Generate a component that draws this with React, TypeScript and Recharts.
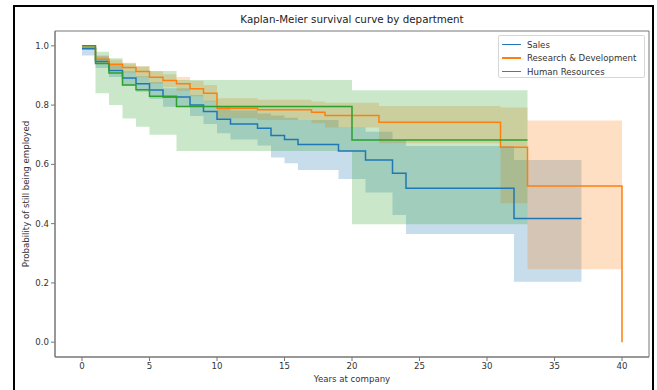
import { ComposedChart, Line, Area, XAxis, YAxis, ReferenceArea } from 'recharts';

// Kaplan-Meier estimates (step after each time)
const salesTimes = [0, 1, 2, 3, 4, 5, 6, 8, 9, 10, 11, 13, 14, 15, 16, 19, 21, 23, 24, 32, 37];
const salesSurv = [0.99, 0.947, 0.917, 0.891, 0.872, 0.851, 0.827, 0.8, 0.778, 0.752, 0.736, 0.722, 0.697, 0.684, 0.667, 0.645, 0.615, 0.57, 0.519, 0.417, 0.417];
const salesLower = [0.967, 0.925, 0.895, 0.866, 0.845, 0.821, 0.794, 0.763, 0.736, 0.705, 0.684, 0.664, 0.623, 0.604, 0.581, 0.551, 0.505, 0.429, 0.365, 0.204, 0.204];
const salesUpper = [0.997, 0.965, 0.937, 0.914, 0.897, 0.878, 0.857, 0.834, 0.815, 0.794, 0.782, 0.772, 0.765, 0.757, 0.75, 0.725, 0.71, 0.682, 0.662, 0.615, 0.615];

const rdTimes = [0, 1, 2, 3, 4, 5, 6, 7, 8, 9, 10, 13, 17, 18, 22, 31, 33, 40];
const rdSurv = [0.995, 0.955, 0.938, 0.927, 0.913, 0.894, 0.883, 0.872, 0.855, 0.84, 0.789, 0.784, 0.776, 0.765, 0.742, 0.658, 0.527, 0];
const rdLower = [0.988, 0.94, 0.922, 0.91, 0.894, 0.873, 0.86, 0.848, 0.83, 0.812, 0.756, 0.75, 0.739, 0.724, 0.671, 0.469, 0.246, 0.246];
const rdUpper = [1.0, 0.968, 0.953, 0.943, 0.931, 0.914, 0.904, 0.895, 0.882, 0.868, 0.823, 0.818, 0.812, 0.808, 0.797, 0.792, 0.748, 0.748];

const hrTimes = [0, 1, 2, 3, 4, 5, 7, 20, 33];
const hrSurv = [1.0, 0.94, 0.908, 0.868, 0.852, 0.83, 0.795, 0.682, 0.682];
const hrLower = [1.0, 0.84, 0.8, 0.755, 0.727, 0.7, 0.645, 0.398, 0.398];
const hrUpper = [1.0, 0.98, 0.958, 0.94, 0.93, 0.915, 0.885, 0.85, 0.85];

const xTicks = [0, 5, 10, 15, 20, 25, 30, 35, 40];
const yTicks = [0, 0.2, 0.4, 0.6, 0.8, 1.0];

const SERIES = [
  { key: 'sales', name: 'Sales', color: '#1f77b4', times: salesTimes, surv: salesSurv, lo: salesLower, hi: salesUpper },
  { key: 'rd', name: 'Research & Development', color: '#ff7f0e', times: rdTimes, surv: rdSurv, lo: rdLower, hi: rdUpper },
  { key: 'hr', name: 'Human Resources', color: '#2ca02c', times: hrTimes, surv: hrSurv, lo: hrLower, hi: hrUpper },
];

// value of a step function at time t (last event at or before t), null after the series ends
function stepAt(times: number[], vals: number[], t: number) {
  if (t > times[times.length - 1]) return null;
  let idx = 0;
  for (let i = 0; i < times.length; i++) if (times[i] <= t) idx = i;
  return vals[idx];
}

const allTimes = Array.from(new Set([...salesTimes, ...rdTimes, ...hrTimes])).sort((a, b) => a - b);
const rows = allTimes.map((t) => {
  const row: any = { t };
  SERIES.forEach((s) => {
    row[s.key] = stepAt(s.times, s.surv, t);
    const lo = stepAt(s.times, s.lo, t);
    const hi = stepAt(s.times, s.hi, t);
    row[s.key + 'Band'] = lo === null || hi === null ? null : [lo, hi];
  });
  return row;
});

const FONT = '"DejaVu Sans", sans-serif';
const AXIS = '#777';

export default function App() {
  return (
    <div style={{ position: 'absolute', left: 0, top: 0, width: 657, height: 390, background: '#fff', overflow: 'hidden', fontFamily: FONT }}>
      <div style={{ position: 'absolute', left: 13, top: 5, width: 637, height: 400, border: '2px solid #000' }} />
      <ComposedChart width={657} height={390} data={rows} margin={{ top: 31, right: 8, left: 15, bottom: 13 }}>
        <XAxis
          dataKey="t"
          type="number"
          domain={[-2, 42]}
          ticks={xTicks}
          allowDataOverflow
          tickSize={4}
          tickMargin={2}
          height={20}
          stroke={AXIS}
          tick={{ fontSize: 8.6, fill: '#333', fontFamily: FONT }}
        />
        <YAxis
          type="number"
          domain={[-0.05, 1.05]}
          ticks={yTicks}
          allowDataOverflow
          width={40}
          tickSize={4}
          tickMargin={2}
          stroke={AXIS}
          tickFormatter={(v: number) => v.toFixed(1)}
          tick={{ fontSize: 8.6, fill: '#333', fontFamily: FONT }}
        />
        {SERIES.flatMap((s) => [
          <Line
            key={s.key + '-line'}
            dataKey={s.key}
            type="stepAfter"
            stroke={s.color}
            strokeWidth={1.5}
            dot={false}
            activeDot={false}
            isAnimationActive={false}
          />,
          <Area
            key={s.key + '-band'}
            dataKey={s.key + 'Band'}
            type="stepAfter"
            fill={s.color}
            fillOpacity={0.25}
            stroke="none"
            dot={false}
            activeDot={false}
            isAnimationActive={false}
          />,
        ])}
        <ReferenceArea x1={-2} x2={42} y1={-0.05} y2={1.05} fill="none" stroke={AXIS} strokeWidth={1} />
      </ComposedChart>

      <div style={{ position: 'absolute', left: 55, width: 594, top: 13, textAlign: 'center', fontSize: 10.3, color: '#222' }}>
        Kaplan-Meier survival curve by department
      </div>
      <div style={{ position: 'absolute', left: 55, width: 594, top: 374, textAlign: 'center', fontSize: 8.6, color: '#333' }}>
        Years at company
      </div>
      <div
        style={{
          position: 'absolute',
          left: 26,
          top: 194,
          transform: 'translate(-50%, -50%) rotate(-90deg)',
          whiteSpace: 'nowrap',
          fontSize: 8.6,
          color: '#333',
        }}
      >
        Probability of still being employed
      </div>

      <div
        style={{
          position: 'absolute',
          left: 498,
          top: 35,
          width: 147,
          height: 43,
          border: '1px solid #d6d6d6',
          borderRadius: 2,
          background: 'rgba(255,255,255,0.8)',
          boxSizing: 'border-box',
        }}
      >
        {SERIES.map((s, i) => (
          <div key={s.key} style={{ position: 'absolute', left: 3, top: 2 + i * 13.5, height: 13, display: 'flex', alignItems: 'center' }}>
            <div style={{ width: 19, height: 1.5, background: s.color }} />
            <span style={{ marginLeft: 6, fontSize: 8.6, color: '#333', whiteSpace: 'nowrap' }}>{s.name}</span>
          </div>
        ))}
      </div>
    </div>
  );
}
